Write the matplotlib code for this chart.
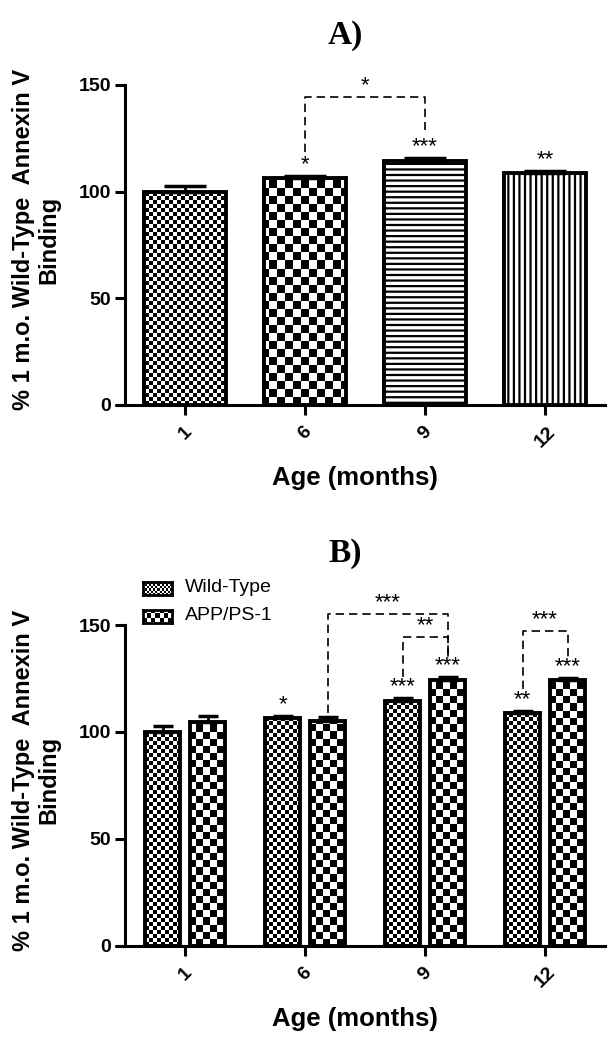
import numpy as np
import matplotlib
matplotlib.use('Agg')
from matplotlib import pyplot as plt

plt.rcParams['font.family'] = ['Liberation Sans', 'DejaVu Sans']
plt.rcParams['hatch.linewidth'] = 1.6

ages = ['1', '6', '9', '12']
wt_vals = [100, 106.5, 114.5, 108.8]
wt_err = [2.8, 0.9, 1.3, 0.8]
app_vals = [104.5, 105.3, 124.5, 124.3]
app_err = [2.8, 1.5, 1.0, 1.0]
stars_a = ['', '*', '***', '**']
stars_wt = ['', '*', '***', '**']
stars_app = ['', '', '***', '***']

FW, FH, DPI = 6.15, 10.5, 100
fig = plt.figure(figsize=(FW, FH), dpi=DPI)
axA = fig.add_axes([0.2033, 0.6143, 0.7805, 0.3048])
axB = fig.add_axes([0.2033, 0.0993, 0.7805, 0.3054])


def checker(ax, patch, cell):
    bb = ax.get_position()
    nx = int(bb.width * FW * DPI / cell)
    ny = int(bb.height * FH * DPI / cell)
    arr = np.add.outer(np.arange(ny), np.arange(nx)) % 2
    im = ax.imshow(arr, cmap='gray', vmin=0, vmax=1, extent=(0, 1, 0, 1),
                   transform=ax.transAxes, interpolation='nearest',
                   aspect='auto', zorder=2)
    im.set_clip_path(patch)


def style(ax):
    for s in ['top', 'right']:
        ax.spines[s].set_visible(False)
    for s in ['left', 'bottom']:
        ax.spines[s].set_linewidth(2.2)
    ax.set_xlim(-0.5, 3.5)
    ax.set_ylim(0, 150)
    ax.set_yticks([0, 50, 100, 150])
    ax.set_xticks(range(len(ages)))
    ax.set_xticklabels(ages, rotation=45, fontsize=14, fontweight='bold')
    ax.tick_params(width=2.2, length=7, labelsize=14, pad=3)
    for t in ax.get_yticklabels():
        t.set_fontweight('bold')
    ax.tick_params(axis='x', pad=6)
    ax.set_xlabel('Age (months)', fontsize=18.5, fontweight='bold')
    ax.xaxis.set_label_coords(0.480, -0.19)
    ax.set_ylabel('% 1 m.o. Wild-Type  Annexin V\nBinding', fontsize=17,
                  fontweight='bold', linespacing=1.15)
    ax.yaxis.set_label_coords(-0.135, 0.516)
    ax.plot([-0.021, 0], [0, 0], transform=ax.transAxes, color='k', lw=2.2,
            clip_on=False, solid_capstyle='butt')


def bracket(ax, x1, x2, y1, y2, top, label):
    ax.plot([x1, x1, x2, x2], [y1, top, top, y2], color='k', lw=1.2,
            ls=(0, (5, 3)), clip_on=False, zorder=5)
    ax.text((x1 + x2) / 2, top + 0.5, label, ha='center', va='bottom',
            fontsize=16, clip_on=False)


def star(ax, x, y, label):
    if label:
        ax.text(x, y + 0.5, label, ha='center', va='bottom', fontsize=16)


# ---- panel A ----
x = np.arange(len(ages))
bars = axA.bar(x, wt_vals, width=0.68, facecolor='none', edgecolor='k',
               linewidth=2.8, zorder=3)
checker(axA, bars[0], 4)
checker(axA, bars[1], 8)
bars[2].set_hatch('---')
bars[3].set_hatch('|||')
axA.errorbar(x, wt_vals, yerr=[np.zeros(4), wt_err], fmt='none', ecolor='k',
             elinewidth=2, capsize=15, capthick=2.5, zorder=4)
for i in range(4):
    star(axA, x[i], wt_vals[i] + wt_err[i], stars_a[i])
bracket(axA, 1, 2, 118.5, 129, 144.4, '*')
style(axA)
fig.text(0.561, 0.966, 'A)', ha='center', va='center', fontsize=24,
         fontweight='bold', family='Liberation Serif')

# ---- panel B ----
off, w = 0.1875, 0.29
bw = axB.bar(x - off, wt_vals, width=w, facecolor='none', edgecolor='k',
             linewidth=2.8, zorder=3)
ba = axB.bar(x + off, app_vals, width=w, facecolor='none', edgecolor='k',
             linewidth=2.8, zorder=3)
for b in bw:
    checker(axB, b, 4)
for b in ba:
    checker(axB, b, 7)
axB.errorbar(x - off, wt_vals, yerr=[np.zeros(4), wt_err], fmt='none',
             ecolor='k', elinewidth=2, capsize=7, capthick=2.5, zorder=4)
axB.errorbar(x + off, app_vals, yerr=[np.zeros(4), app_err], fmt='none',
             ecolor='k', elinewidth=2, capsize=7, capthick=2.5, zorder=4)
for i in range(4):
    star(axB, x[i] - off, wt_vals[i] + wt_err[i], stars_wt[i])
    star(axB, x[i] + off, app_vals[i] + app_err[i], stars_app[i])
bracket(axB, 1 + off, 2 + off, 109, 134, 155, '***')
bracket(axB, 2 - off, 2 + off, 125.5, 134, 144.4, '**')
bracket(axB, 3 - off, 3 + off, 120, 134, 147, '***')
style(axB)
fig.text(0.561, 0.473, 'B)', ha='center', va='center', fontsize=24,
         fontweight='bold', family='Liberation Serif')

# legend swatches
for row, (lab, cell) in enumerate([('Wild-Type', 2), ('APP/PS-1', 4)]):
    yc = 588 + row * 28
    sw = fig.add_axes([143 / 615, 1 - (yc + 6.5) / 1050, 29 / 615, 13 / 1050])
    arr = np.add.outer(np.arange(12 // cell), np.arange(28 // cell)) % 2
    sw.imshow(arr, cmap='gray', vmin=0, vmax=1, interpolation='nearest',
              aspect='auto')
    sw.set_xticks([])
    sw.set_yticks([])
    for s in sw.spines.values():
        s.set_linewidth(2)
    fig.text(185 / 615, 1 - yc / 1050, lab, ha='left', va='center',
             fontsize=14)

fig.savefig('out.png', dpi=DPI)
